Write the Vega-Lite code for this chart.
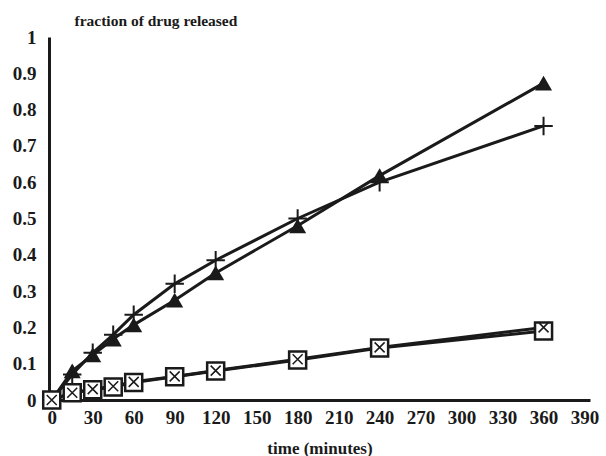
{
  "$schema": "https://vega.github.io/schema/vega-lite/v6.json",
  "autosize": "none",
  "width": 541,
  "height": 363,
  "padding": {"left": 49, "top": 37, "right": 16, "bottom": 56},
  "background": "white",
  "config": {
    "view": {"stroke": null},
    "font": "Times New Roman",
    "axis": {"grid": false, "domainColor": "#1a1a1a", "domainWidth": 3, "ticks": false, "labelFont": "Times New Roman", "labelFontSize": 19, "labelFontWeight": "bold", "labelColor": "#1a1a1a", "titleFont": "Times New Roman", "titleFontSize": 17, "titleFontWeight": "bold", "titleColor": "#1a1a1a"}
  },
  "data": {
    "values": [
      {"t": 0, "f": 0, "s": "triangle"},
      {"t": 15, "f": 0.08, "s": "triangle"},
      {"t": 30, "f": 0.124, "s": "triangle"},
      {"t": 45, "f": 0.168, "s": "triangle"},
      {"t": 60, "f": 0.207, "s": "triangle"},
      {"t": 90, "f": 0.275, "s": "triangle"},
      {"t": 120, "f": 0.35, "s": "triangle"},
      {"t": 180, "f": 0.48, "s": "triangle"},
      {"t": 240, "f": 0.618, "s": "triangle"},
      {"t": 360, "f": 0.873, "s": "triangle"},
      {"t": 0, "f": 0, "s": "plus"},
      {"t": 15, "f": 0.07, "s": "plus"},
      {"t": 30, "f": 0.13, "s": "plus"},
      {"t": 45, "f": 0.18, "s": "plus"},
      {"t": 60, "f": 0.235, "s": "plus"},
      {"t": 90, "f": 0.32, "s": "plus"},
      {"t": 120, "f": 0.385, "s": "plus"},
      {"t": 180, "f": 0.5, "s": "plus"},
      {"t": 240, "f": 0.6, "s": "plus"},
      {"t": 360, "f": 0.755, "s": "plus"},
      {"t": 0, "f": 0, "s": "square"},
      {"t": 15, "f": 0.02, "s": "square"},
      {"t": 30, "f": 0.028, "s": "square"},
      {"t": 45, "f": 0.036, "s": "square"},
      {"t": 60, "f": 0.048, "s": "square"},
      {"t": 90, "f": 0.064, "s": "square"},
      {"t": 120, "f": 0.08, "s": "square"},
      {"t": 180, "f": 0.11, "s": "square"},
      {"t": 240, "f": 0.143, "s": "square"},
      {"t": 360, "f": 0.19, "s": "square"},
      {"t": 0, "f": 0, "s": "x"},
      {"t": 15, "f": 0.02, "s": "x"},
      {"t": 30, "f": 0.03, "s": "x"},
      {"t": 45, "f": 0.038, "s": "x"},
      {"t": 60, "f": 0.05, "s": "x"},
      {"t": 90, "f": 0.065, "s": "x"},
      {"t": 120, "f": 0.081, "s": "x"},
      {"t": 180, "f": 0.112, "s": "x"},
      {"t": 240, "f": 0.145, "s": "x"},
      {"t": 360, "f": 0.2, "s": "x"}
    ]
  },
  "encoding": {
    "x": {"field": "t", "type": "quantitative", "scale": {"domain": [-2, 394], "nice": false, "zero": false},
      "axis": {"values": [0, 30, 60, 90, 120, 150, 180, 210, 240, 270, 300, 330, 360, 390], "title": "time (minutes)", "labelPadding": 8, "titlePadding": 13}},
    "y": {"field": "f", "type": "quantitative", "scale": {"domain": [0, 1], "nice": false},
      "axis": {"values": [0, 0.1, 0.2, 0.3, 0.4, 0.5, 0.6, 0.7, 0.8, 0.9, 1], "labelExpr": "datum.value == 0 ? '0' : datum.value == 1 ? '1' : format(datum.value, '.1f')", "labelPadding": 13, "title": "fraction of drug released", "titleFontSize": 15.5, "titleAngle": 0, "titleX": 25, "titleY": -12, "titleAlign": "left", "titleBaseline": "alphabetic"}}
  },
  "layer": [
    {"mark": {"type": "line", "color": "#1a1a1a", "strokeWidth": 3}, "encoding": {"detail": {"field": "s"}}},
    {"transform": [{"filter": "datum.s == 'triangle'"}], "mark": {"type": "point", "shape": "triangle-up", "filled": true, "color": "#1a1a1a", "size": 290, "opacity": 1}},
    {"transform": [{"filter": "datum.s == 'plus'"}], "mark": {"type": "point", "shape": "M-1,0L1,0M0,-1L0,1", "filled": false, "color": "#1a1a1a", "strokeWidth": 2, "size": 340, "opacity": 1}},
    {"transform": [{"filter": "datum.s == 'square'"}], "mark": {"type": "point", "shape": "square", "filled": true, "fill": "white", "stroke": "#1a1a1a", "strokeWidth": 2.5, "size": 290, "opacity": 1}},
    {"transform": [{"filter": "datum.s == 'x'"}], "mark": {"type": "point", "shape": "M-1,-1L1,1M-1,1L1,-1", "filled": false, "color": "#1a1a1a", "strokeWidth": 1.5, "size": 100, "opacity": 1}}
  ]
}
